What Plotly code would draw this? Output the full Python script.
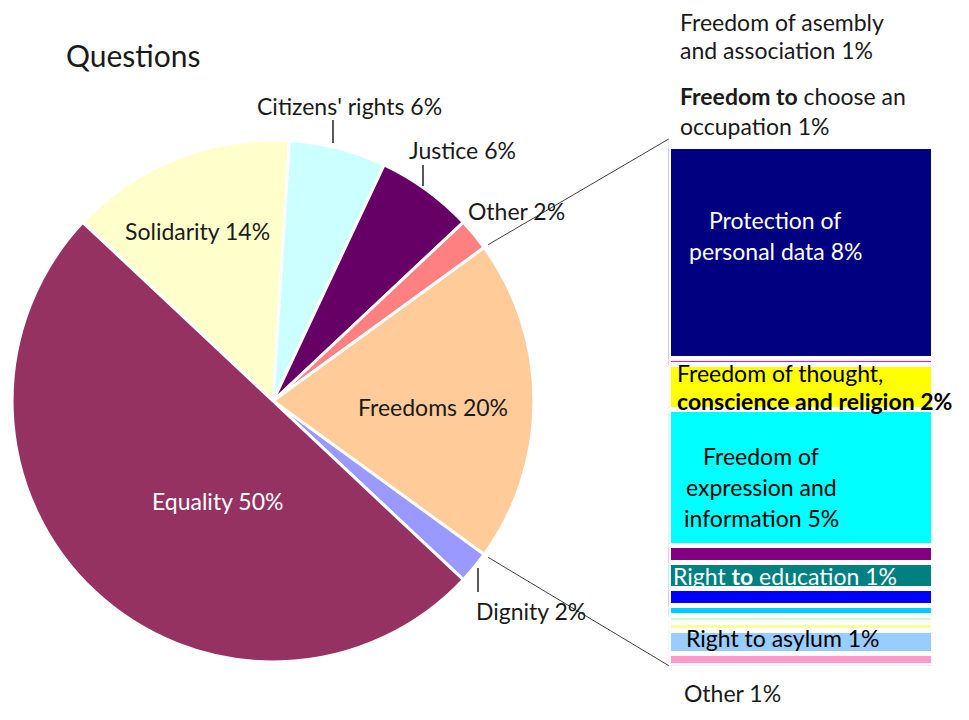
import math
import plotly.graph_objects as go

# ---------------- data ----------------
pie_labels = ["Solidarity", "Citizens' rights", "Justice", "Other", "Freedoms", "Dignity", "Equality"]
pie_values = [14, 6, 6, 2, 20, 2, 50]
pie_colors = ["#FFFFCC", "#CCFFFF", "#660066", "#FF8080", "#FFCC99", "#9999FF", "#953262"]

# breakdown of "Freedoms" (top -> bottom)
bar_labels = ["Freedom of assembly and association", "Freedom to choose an occupation",
              "Protection of personal data", "Respect for private and family life",
              "Freedom of thought, conscience and religion", "Freedom of expression and information",
              "Right to liberty and security", "Right to education", "Right to marry",
              "Freedom of the arts and sciences", "Freedom to conduct a business",
              "Right to property", "Right to asylum", "Other"]
bar_values = [0.20, 0.09, 8.06, 0.23, 1.72, 5.18, 0.62, 1.00, 0.63, 0.39, 0.27, 0.32, 0.85, 0.45]
bar_colors = ["#5B9BD5", "#D9D9F3", "#000080", "#FF00FF", "#FFFF00", "#00FFFF", "#800080",
              "#008080", "#0000FF", "#00CCFF", "#CCFFCC", "#FFFF99", "#99CCFF", "#FF99CC"]

W, H = 969, 720
OFF = 8  # page body margin
FONT = "Lato, Carlito, Calibri, sans-serif"

def px(x):
    return (x - OFF) / W

def py(y):
    return 1 - (y - OFF) / H

# ---------------- geometry ----------------
cx, cy, r = 273, 401, 261
split_idx = pie_labels.index("Freedoms")
total_pie = sum(pie_values)
half = pie_values[split_idx] / total_pie * 360 / 2
start_math = half + sum(pie_values[:split_idx]) / total_pie * 360
rotation = -(start_math - 90)

bar_x0, bar_x1 = 668.7, 933.3
bar_top, bar_bot = 139, 665.6

fig = go.Figure()

fig.add_trace(go.Pie(
    labels=pie_labels, values=pie_values, sort=False, direction="clockwise",
    rotation=rotation, textinfo="none", hoverinfo="label+percent",
    marker=dict(colors=pie_colors, line=dict(color="white", width=3)),
    domain=dict(x=[px(cx - r), px(cx + r)], y=[py(cy + r), py(cy - r)]),
    showlegend=False,
))

# stacked bar: plot from bottom to top
for lab, val, col in reversed(list(zip(bar_labels, bar_values, bar_colors))):
    fig.add_trace(go.Bar(
        x=[0], y=[val], name=lab, width=1,
        marker=dict(color=col, line=dict(color="white", width=4.6)),
        showlegend=False, hoverinfo="name+y",
    ))

total_bar = sum(bar_values)

# connector lines
shapes = []
for sgn, yb in ((1, bar_top), (-1, bar_bot)):
    ang = math.radians(sgn * half)
    x0 = cx + (r + 5) * math.cos(ang)
    y0 = cy - (r + 5) * math.sin(ang)
    shapes.append(dict(type="line", xref="paper", yref="paper",
                       x0=px(x0), y0=py(y0), x1=px(bar_x0), y1=py(yb),
                       line=dict(color="#404040", width=1)))
# short leader ticks
for x, y0, y1 in ((333, 120, 143), (423, 165, 186), (478, 568, 592)):
    shapes.append(dict(type="line", xref="paper", yref="paper",
                       x0=px(x), y0=py(y0), x1=px(x), y1=py(y1),
                       line=dict(color="#202020", width=1.5)))

ann = []

def t(text, x, y, size=23, color="#1a1a1a", xanchor="center"):
    ann.append(dict(text=text, x=px(x), y=py(y), xref="paper", yref="paper",
                    xanchor=xanchor, yanchor="middle", showarrow=False,
                    font=dict(family=FONT, size=size, color=color)))

t("Questions", 64, 55, size=30, xanchor="left")
t("Citizens' rights 6%", 349, 106)
t("Justice 6%", 462, 150)
t("Other 2%", 516, 211)
t("Solidarity 14%", 197, 231)
t("Freedoms 20%", 433, 407)
t("Equality 50%", 217, 501, color="white")
t("Dignity 2%", 531, 611)

t("Freedom of asembly", 678, 22, xanchor="left")
t("and association 1%", 678, 50, xanchor="left")
t("<b>Freedom to</b> choose an", 678, 96, xanchor="left")
t("occupation 1%", 678, 126, xanchor="left")
t("Protection of", 775, 220, color="white")
t("personal data 8%", 775, 251, color="white")
t("Freedom of thought,", 675, 373, color="black", xanchor="left")
t("<b>conscience and religion 2%</b>", 675, 401, color="black", xanchor="left")
t("Freedom of", 761, 456, color="black")
t("expression and", 761, 487, color="black")
t("information 5%", 761, 518, color="black")
t("Right <b>to</b> education 1%", 671, 576, color="white", xanchor="left")
t("Right to asylum 1%", 684, 638, color="black", xanchor="left")
t("Other 1%", 682, 693, xanchor="left")

fig.update_layout(
    width=W, height=H, margin=dict(l=0, r=0, t=0, b=0),
    paper_bgcolor="white", plot_bgcolor="white",
    barmode="stack", bargap=0,
    xaxis=dict(domain=[px(bar_x0), px(bar_x1)], range=[-0.5, 0.5], visible=False, fixedrange=True),
    yaxis=dict(domain=[py(bar_bot), py(bar_top)], range=[0, total_bar], visible=False, fixedrange=True),
    shapes=shapes, annotations=ann,
)

fig.write_html("out.html")
